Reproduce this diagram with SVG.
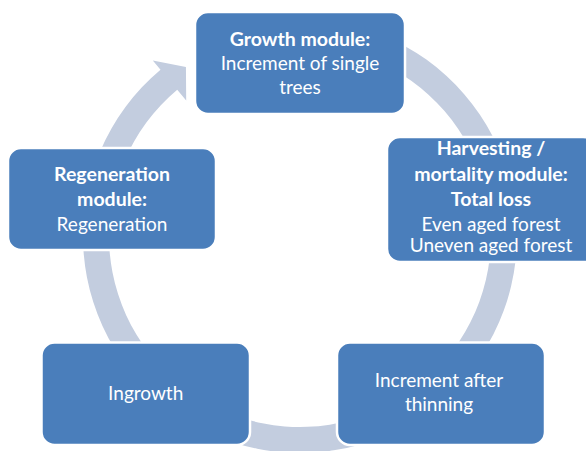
<svg xmlns="http://www.w3.org/2000/svg" width="586" height="451" viewBox="0 0 586 451">
  <style>
    .node { fill: #4A7EBB; stroke: #FFFFFF; stroke-width: 2.5; }
    .ring { fill: #C3CDDF; stroke: none; }
    text { font-family: Lato, "Open Sans", "Liberation Sans", sans-serif; font-size: 19px; fill: #FFFFFF; text-anchor: middle; }
    .b { font-weight: bold; font-size: 19.5px; }
  </style>
  <rect width="586" height="451" fill="#FFFFFF"/>

  <!-- cycle connector: one circular block arrow behind the nodes -->
  <g id="connectors">
    <path class="ring" d="M 281.09 19.83 A 217 217 0 1 1 160.51 69.77 L 152.8 60.6 L 185.93 66.88 L 186.2 100.4 L 177.23 89.69 A 191 191 0 1 0 283.35 45.73 Z"/>
  </g>

  <g id="growth">
    <rect class="node" x="195" y="12" width="210" height="102" rx="13"/>
    <text class="b" x="300" y="46">Growth module:</text>
    <text x="300" y="70">Increment of single</text>
    <text x="300" y="93.5">trees</text>
  </g>

  <g id="harvesting">
    <rect class="node" x="387" y="137" width="209" height="125" rx="13"/>
    <text class="b" x="491" y="155">Harvesting /</text>
    <text class="b" x="491" y="180.5">mortality module:</text>
    <text class="b" x="491" y="205.5">Total loss</text>
    <text x="491" y="231">Even aged forest</text>
    <text x="491" y="252">Uneven aged forest</text>
  </g>

  <g id="increment-thinning">
    <rect class="node" x="337" y="342.5" width="208" height="102.5" rx="13"/>
    <text x="439" y="386.7">Increment after</text>
    <text x="439" y="411">thinning</text>
  </g>

  <g id="ingrowth">
    <rect class="node" x="41.5" y="342.5" width="208.5" height="102.5" rx="13"/>
    <text x="145.7" y="400">Ingrowth</text>
  </g>

  <g id="regeneration">
    <rect class="node" x="8" y="148" width="208" height="102" rx="13"/>
    <text class="b" x="112" y="181">Regeneration</text>
    <text class="b" x="112" y="205.5">module:</text>
    <text x="112" y="230.5">Regeneration</text>
  </g>
</svg>
